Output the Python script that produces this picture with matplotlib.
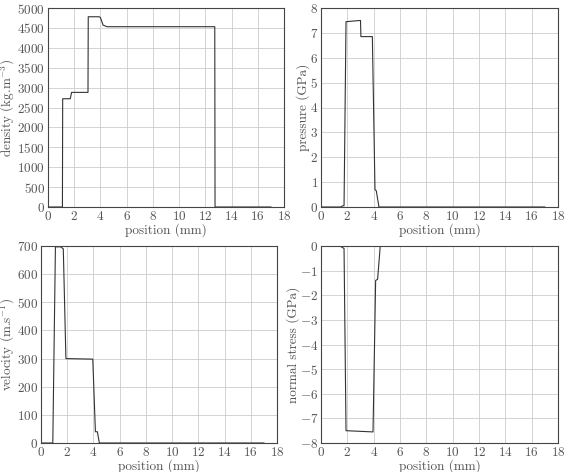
import matplotlib
matplotlib.use('Agg')
import matplotlib.pyplot as plt

plt.rcParams['font.family'] = 'serif'
plt.rcParams['font.serif'] = ['cmr10', 'DejaVu Serif']
plt.rcParams['mathtext.fontset'] = 'cm'
plt.rcParams['axes.formatter.use_mathtext'] = True
plt.rcParams['axes.unicode_minus'] = True

# profiles (position in mm)
dens_x = [0, 1.1, 1.12, 1.7, 1.8, 3.05, 3.07, 3.9, 4.0, 4.2, 4.5, 12.72, 12.74, 17.0]
dens_y = [0, 0, 2720, 2720, 2880, 2880, 4780, 4780, 4760, 4570, 4530, 4530, 0, 0]

pres_x = [0, 1.5, 1.65, 1.75, 1.9, 3.0, 3.03, 3.9, 4.1, 4.2, 4.4, 17.0]
pres_y = [0, 0, 0.05, 0.05, 7.45, 7.5, 6.85, 6.85, 0.7, 0.65, 0.0, 0]

vel_x = [0, 0.9, 1.1, 1.5, 1.7, 1.9, 3.95, 4.15, 4.3, 4.45, 17.0]
vel_y = [0, 0, 697, 697, 690, 300, 298, 40, 40, 0, 0]

strs_x = [0, 1.4, 1.6, 1.75, 1.9, 3.95, 4.15, 4.3, 4.5, 17.0]
strs_y = [0, 0, -0.05, -0.1, -7.5, -7.55, -1.4, -1.35, 0, 0]

xticks = list(range(0, 19, 2))

fig = plt.figure(figsize=(5.65, 4.72), dpi=100)
W, H = 565.0, 472.0

def mkax(l, t, r, b):
    return fig.add_axes([l / W, 1 - b / H, (r - l) / W, (b - t) / H])

panels = [
    (mkax(48, 8, 284, 207), dens_x, dens_y, (0, 5000), range(0, 5001, 500), r'density (kg.m$^{-3}$)'),
    (mkax(321, 8, 558, 207), pres_x, pres_y, (0, 8), range(0, 9), 'pressure (GPa)'),
    (mkax(41, 246, 277, 443), vel_x, vel_y, (0, 700), range(0, 701, 100), r'velocity (m.s$^{-1}$)'),
    (mkax(321, 246, 558, 443), strs_x, strs_y, (-8, 0), range(-8, 1), 'normal stress (GPa)'),
]

for ax, x, y, ylim, yt, ylab in panels:
    ax.plot(x, y, color='#333333', lw=0.8, zorder=1.5)
    ax.set_xlim(0, 18)
    ax.set_ylim(*ylim)
    ax.set_xticks(xticks)
    ax.set_yticks(list(yt))
    ax.grid(True, color='#cccccc', lw=0.6)
    ax.set_axisbelow(True)
    ax.tick_params(direction='in', length=0, labelsize=9.5, colors='#555555', pad=2)
    for s in ax.spines.values():
        s.set_color('#444444')
        s.set_linewidth(0.8)
        s.set_zorder(3)
    ax.set_xlabel('position (mm)', fontsize=9.5, color='#555555', labelpad=0)
    ax.set_ylabel(ylab, fontsize=9.5, color='#555555', labelpad=0)

fig.savefig('out.png', dpi=100)
